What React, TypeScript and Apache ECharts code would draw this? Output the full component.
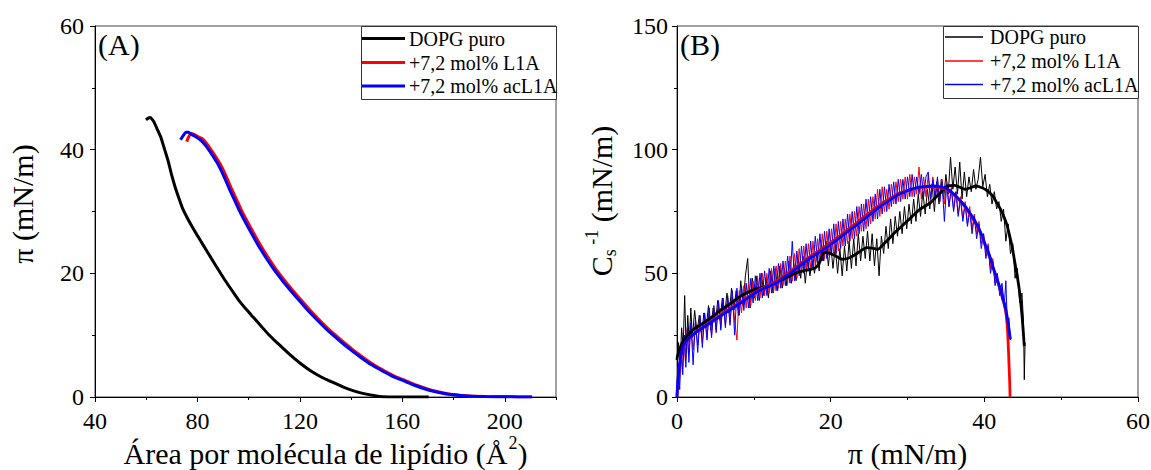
import React, { useEffect, useRef } from 'react';
import * as echarts from 'echarts';

const FONT = "'Liberation Serif', 'Times New Roman', Times, serif";

// Panel A: surface pressure isotherms [area (Å²), π (mN/m)]
const isoDOPG = [
  [59.9, 44.8], [60.8, 45.1], [61.6, 45.2], [62.3, 44.9], [63, 44.5], [64.3, 43.3], [65.8, 41.9], [67.2, 40],
  [68.6, 38.1], [70, 35.8], [71.4, 33.8], [72.8, 32.1], [74.1, 30.6], [76, 29], [78, 27.5], [79.7, 26.3],
  [82.5, 24.4], [85.3, 22.5], [88, 20.7], [90.9, 18.8], [93.7, 17.1], [96.4, 15.5], [99.2, 14.1], [102, 12.8],
  [104.8, 11.5], [107.6, 10.2], [111.8, 8.5], [116, 6.9], [120, 5.5], [124.3, 4.2], [128.5, 3.2], [132.7, 2.4],
  [137, 1.6], [141, 1.0], [145, 0.55], [149.4, 0.2], [152.2, 0.05], [160, 0.01], [170.3, 0]
];
const isoL1A = [
  [75.8, 41.3], [76.6, 42.1], [77.5, 42.6], [78.5, 42.5], [80.2, 42.1], [81.8, 41.8], [83.2, 41.2], [84.8, 40.3],
  [86.9, 39], [89, 37.6], [91.1, 35.8], [93.2, 33.8], [95.2, 32], [97.3, 30.1], [100.1, 27.9], [102.9, 25.8],
  [105.7, 23.8], [108.5, 22], [111.3, 20.3], [114.1, 18.8], [116.9, 17.4], [119.6, 16.1], [123.8, 14.1], [128, 12.3],
  [132.2, 10.6], [136.4, 9.1], [140.5, 7.7], [144.7, 6.4], [148.9, 5.2], [153.1, 4.2], [157.3, 3.3], [161.5, 2.6],
  [165.6, 1.9], [169.8, 1.3], [173.9, 0.85], [178.1, 0.5], [182.3, 0.3], [186.4, 0.16], [192.8, 0.08], [200.3, 0.04],
  [205.5, 0.02], [210.5, 0]
];
const isoAcL1A = [
  [73.4, 41.6], [74.5, 42.3], [75.5, 42.8], [76.5, 42.8], [77.6, 42.5], [79.3, 42.1], [81.1, 41.6], [82.5, 41],
  [83.9, 40.3], [86, 39], [88.1, 37.6], [90.2, 35.8], [92.3, 33.8], [94.3, 32], [96.4, 30.1], [99.2, 27.9],
  [102, 25.8], [104.8, 23.8], [107.6, 22.0], [110.4, 20.3], [113.2, 18.8], [116, 17.4], [118.7, 16.1], [122.9, 14.1],
  [127.1, 12.3], [131.3, 10.6], [135.5, 9.1], [139.6, 7.7], [143.8, 6.4], [148, 5.2], [152.2, 4.2], [156.4, 3.3],
  [160.6, 2.6], [164.7, 1.9], [168.9, 1.3], [173, 0.85], [177.3, 0.5], [181.5, 0.3], [185.6, 0.16], [192, 0.08],
  [199.6, 0.04], [205, 0.02], [210.7, 0]
];

// Panel B: compressibility modulus [π (mN/m), Cs^-1 (mN/m)] – raw (noisy) traces
const csDOPGraw = [
  [0.0, 15], [0.2, 22], [0.4, 12], [0.6, 28], [0.8, 20], [1.0, 41], [1.2, 18], [1.4, 33], [1.6, 22], [1.8, 36],
  [2.0, 24], [2.3, 35], [2.6, 26], [2.9, 33], [3.2, 25], [3.5, 34], [3.8, 28], [4.1, 37], [4.4, 27], [4.7, 36],
  [5.0, 30], [5.3, 39], [5.6, 31], [5.9, 40], [6.2, 33], [6.5, 42], [6.8, 34], [7.1, 44], [7.4, 35], [7.7, 43],
  [8.0, 33], [8.3, 47], [8.6, 37], [8.9, 49], [9.2, 56], [9.5, 36], [9.8, 48], [10.1, 40], [10.4, 49], [10.7, 39],
  [11.0, 50], [11.3, 41], [11.6, 48], [11.9, 40], [12.2, 51], [12.5, 42], [12.8, 52], [13.1, 43], [13.4, 53], [13.7, 44],
  [14.0, 52], [14.3, 45], [14.6, 55], [14.9, 46], [15.2, 54], [15.5, 47], [15.8, 56], [16.1, 48], [16.4, 57], [16.7, 46],
  [17.0, 56], [17.3, 49], [17.6, 55], [17.9, 50], [18.2, 58], [18.5, 51], [18.8, 62], [19.1, 55], [19.4, 63], [19.7, 53],
  [20.0, 62], [20.3, 52], [20.6, 61], [20.9, 50], [21.2, 60], [21.5, 49], [21.8, 61], [22.1, 51], [22.4, 63], [22.7, 52],
  [23.0, 64], [23.3, 53], [23.6, 66], [23.9, 55], [24.2, 65], [24.5, 56], [24.8, 67], [25.1, 55], [25.4, 66], [25.7, 53],
  [26.0, 64], [26.3, 49], [26.6, 65], [26.9, 58], [27.2, 69], [27.5, 60], [27.8, 72], [28.1, 62], [28.4, 73], [28.7, 65],
  [29.0, 75], [29.3, 66], [29.6, 77], [29.9, 68], [30.2, 78], [30.5, 70], [30.8, 80], [31.1, 71], [31.4, 82], [31.7, 73],
  [32.0, 83], [32.3, 74], [32.6, 84], [32.9, 76], [33.2, 86], [33.5, 75], [33.8, 87], [34.1, 78], [34.4, 88], [34.7, 80],
  [35.0, 90], [35.3, 82], [35.6, 97], [35.9, 84], [36.2, 93], [36.5, 82], [36.8, 95], [37.1, 80], [37.4, 91], [37.7, 81],
  [38.0, 89], [38.3, 83], [38.6, 92], [38.9, 84], [39.2, 88], [39.5, 97], [39.8, 85], [40.1, 90], [40.4, 81], [40.7, 86],
  [41.0, 78], [41.3, 83], [41.6, 76], [41.9, 79], [42.2, 71], [42.5, 76], [42.8, 63], [43.1, 70], [43.4, 58], [43.7, 62],
  [44.0, 48], [44.3, 52], [44.6, 38], [44.9, 42], [45.1, 30], [45.2, 7], [45.3, 22]
];
const csL1Araw = [
  [0.0, 0], [0.1, 8], [0.3, 5], [0.5, 18], [0.7, 10], [0.9, 24], [1.1, 14], [1.3, 27], [1.5, 17], [1.8, 29],
  [2.1, 19], [2.4, 30], [2.7, 21], [3.0, 32], [3.3, 22], [3.6, 33], [3.9, 24], [4.2, 34], [4.5, 25], [4.8, 36],
  [5.1, 27], [5.4, 38], [5.7, 28], [6.0, 39], [6.3, 29], [6.6, 40], [6.9, 30], [7.2, 42], [7.5, 31], [7.8, 23],
  [8.1, 43], [8.4, 34], [8.7, 45], [9.0, 36], [9.3, 46], [9.6, 37], [9.9, 47], [10.2, 39], [10.5, 48], [10.8, 40],
  [11.1, 50], [11.4, 41], [11.7, 50], [12.0, 42], [12.3, 52], [12.6, 43], [12.9, 53], [13.2, 44], [13.5, 54], [13.8, 45],
  [14.1, 55], [14.4, 46], [14.7, 57], [15.0, 47], [15.3, 58], [15.6, 48], [15.9, 60], [16.2, 50], [16.5, 61], [16.8, 51],
  [17.1, 62], [17.4, 52], [17.7, 63], [18.0, 53], [18.3, 64], [18.6, 55], [18.9, 66], [19.2, 56], [19.5, 67], [19.8, 57],
  [20.1, 68], [20.4, 58], [20.7, 70], [21.0, 59], [21.3, 71], [21.6, 61], [21.9, 72], [22.2, 62], [22.5, 74], [22.8, 64],
  [23.1, 75], [23.4, 65], [23.7, 77], [24.0, 67], [24.3, 78], [24.6, 68], [24.9, 80], [25.2, 70], [25.5, 81], [25.8, 72],
  [26.1, 84], [26.4, 73], [26.7, 85], [27.0, 75], [27.3, 84], [27.6, 76], [27.9, 86], [28.2, 78], [28.5, 87], [28.8, 79],
  [29.1, 88], [29.4, 80], [29.7, 89], [30.0, 80], [30.3, 90], [30.6, 81], [30.9, 89], [31.2, 82], [31.5, 93], [31.8, 80],
  [32.1, 89], [32.4, 81], [32.7, 90], [33.0, 79], [33.3, 89], [33.6, 80], [33.9, 88], [34.2, 79], [34.5, 88], [34.8, 78],
  [35.1, 87], [35.4, 77], [35.7, 85], [36.0, 76], [36.3, 83], [36.6, 74], [36.9, 81], [37.2, 72], [37.5, 79], [37.8, 70],
  [38.1, 77], [38.4, 68], [38.7, 74], [39.0, 66], [39.3, 71], [39.6, 62], [39.9, 66], [40.2, 58], [40.5, 62], [40.8, 52],
  [41.1, 56], [41.4, 46], [41.7, 49], [42.0, 42], [42.3, 44], [42.6, 36], [42.9, 34], [43.1, 26]
];
const csAcL1Araw = [
  [0.0, 0], [0.15, 12], [0.35, 3], [0.55, 20], [0.75, 9], [0.95, 25], [1.15, 12], [1.35, 28], [1.55, 14], [1.8, 30],
  [2.1, 13], [2.4, 31], [2.7, 18], [3.0, 33], [3.3, 20], [3.6, 34], [3.9, 23], [4.2, 36], [4.5, 24], [4.8, 37],
  [5.1, 26], [5.4, 39], [5.7, 27], [6.0, 40], [6.3, 28], [6.6, 41], [6.9, 29], [7.2, 43], [7.5, 25], [7.8, 44],
  [8.1, 33], [8.4, 45], [8.7, 35], [9.0, 46], [9.3, 36], [9.6, 48], [9.9, 38], [10.2, 49], [10.5, 39], [10.8, 50],
  [11.1, 40], [11.4, 51], [11.7, 41], [12.0, 52], [12.3, 42], [12.6, 53], [12.9, 43], [13.2, 54], [13.5, 44], [13.8, 55],
  [14.1, 45], [14.4, 57], [14.7, 46], [15.0, 63], [15.3, 47], [15.6, 59], [15.9, 49], [16.2, 61], [16.5, 50], [16.8, 62],
  [17.1, 51], [17.4, 63], [17.7, 52], [18.0, 65], [18.3, 54], [18.6, 66], [18.9, 55], [19.2, 67], [19.5, 56], [19.8, 68],
  [20.1, 57], [20.4, 70], [20.7, 58], [21.0, 71], [21.3, 60], [21.6, 72], [21.9, 61], [22.2, 74], [22.5, 63], [22.8, 75],
  [23.1, 64], [23.4, 77], [23.7, 66], [24.0, 78], [24.3, 67], [24.6, 80], [24.9, 69], [25.2, 81], [25.5, 71], [25.8, 82],
  [26.1, 72], [26.4, 84], [26.7, 74], [27.0, 85], [27.3, 75], [27.6, 86], [27.9, 77], [28.2, 87], [28.5, 78], [28.8, 88],
  [29.1, 79], [29.4, 88], [29.7, 80], [30.0, 89], [30.3, 81], [30.6, 90], [30.9, 81], [31.2, 89], [31.5, 82], [31.8, 90],
  [32.1, 81], [32.4, 89], [32.7, 91], [33.0, 80], [33.3, 88], [33.6, 80], [33.9, 89], [34.2, 79], [34.5, 87], [34.8, 71],
  [35.1, 86], [35.4, 77], [35.7, 84], [36.0, 75], [36.3, 83], [36.6, 73], [36.9, 80], [37.2, 71], [37.5, 78], [37.8, 69],
  [38.1, 75], [38.4, 66], [38.7, 73], [39.0, 64], [39.3, 70], [39.6, 60], [39.9, 66], [40.2, 56], [40.5, 61], [40.8, 50],
  [41.1, 55], [41.4, 45], [41.7, 50], [42.0, 41], [42.3, 46], [42.6, 37], [42.8, 47], [43.0, 29], [43.2, 32], [43.4, 23]
];

// Panel B: smoothed traces
const csDOPGsmooth = [
  [0, 15], [0.1, 17], [0.5, 20.6], [1, 23.5], [1.5, 25.3], [2.2, 27.5], [2.8, 28.7], [3.7, 30.5], [4.7, 32.7],
  [5.6, 35], [6.5, 36.8], [7.4, 38.8], [8.3, 40.8], [9.2, 42.3], [10.1, 43.5], [11, 44.2], [11.9, 44.9], [12.9, 46.2],
  [13.8, 47.6], [14.7, 49], [15.6, 50.3], [16.5, 51], [17.4, 51.6], [18, 52.2], [18.5, 54], [19.2, 58.4], [19.7, 58.3],
  [20.2, 57.7], [20.8, 56.8], [21.5, 55.7], [22.2, 56], [22.9, 57], [23.8, 58.8], [24.7, 60.4], [25.4, 60.2], [26.1, 59.7],
  [26.8, 61.5], [27.5, 63.7], [28.1, 65.7], [28.8, 67.8], [29.5, 69.8], [30.2, 71.8], [30.9, 73.9], [31.6, 75.9],
  [32.3, 77.2], [33, 78.6], [33.6, 80.5], [34.3, 82.6], [35.2, 85.3], [36.1, 85.6], [36.8, 84.8], [37.5, 84],
  [38.2, 84.6], [38.9, 85.3], [39.7, 84.6], [40.2, 83.8], [40.7, 82.6], [41.2, 80.8], [41.6, 78.6], [42.1, 76],
  [42.5, 73.2], [42.9, 70], [43.2, 66.4], [43.6, 61], [43.9, 55.7], [44.3, 48.5], [44.6, 42.2], [44.9, 33], [45.2, 20.6]
];
const csL1Asmooth = [
  [0, 0], [0.1, 5], [0.3, 12], [0.5, 16], [0.8, 20], [1.3, 22.8], [1.9, 24.6], [2.8, 26.9], [3.7, 28.9], [4.8, 31.3],
  [6, 33.8], [7.2, 36.2], [8.3, 38.5], [9.5, 41], [10.6, 43.2], [11.8, 45], [12.9, 46.8], [14, 49.2], [15.1, 51.6],
  [16.2, 54.3], [17.4, 57], [18.6, 59.5], [19.7, 61.8], [20.9, 64.5], [22, 67.2], [23.2, 70], [24.3, 72.8], [25.4, 75.4],
  [26.5, 78], [27.7, 80.3], [28.8, 82.3], [30, 83.6], [31.1, 84.4], [32.2, 84.9], [33.4, 85], [34.1, 84.8], [34.8, 84.2],
  [35.5, 83], [36.1, 81.5], [36.8, 79.3], [37.5, 76.8], [38.2, 73.6], [38.9, 70], [39.6, 65.5], [40.2, 60.5],
  [40.7, 56.5], [41.1, 52.5], [41.6, 47.8], [42.1, 43], [42.4, 39.5], [42.7, 36], [42.95, 30], [43.1, 22],
  [43.2, 14], [43.3, 6], [43.35, 0]
];
const csAcL1Asmooth = [
  [0, 0], [0.1, 6], [0.3, 12.5], [0.5, 16.5], [0.8, 20.6], [1.3, 23], [1.9, 24.7], [2.8, 26.8], [3.7, 28.7], [4.8, 31],
  [6, 33.4], [7.2, 35.8], [8.3, 38.1], [9.5, 40.6], [10.6, 42.9], [11.8, 44.6], [12.9, 46.2], [14, 48.5], [15.1, 50.9],
  [16.2, 53.6], [17.4, 56.3], [18.6, 58.7], [19.7, 61], [20.9, 63.7], [22, 66.4], [23.2, 69.1], [24.3, 71.8], [25.4, 74.5],
  [26.5, 77.2], [27.7, 79.6], [28.8, 81.9], [30, 83.4], [31.1, 84.6], [32.2, 85.1], [33.4, 85.3], [34.1, 85.1],
  [34.8, 84.6], [35.5, 83.4], [36.1, 81.9], [36.8, 79.7], [37.5, 77.2], [38.2, 74], [38.9, 70.5], [39.6, 66],
  [40.2, 61], [40.7, 57], [41.1, 52.9], [41.6, 48.2], [42.1, 43.5], [42.4, 40], [42.7, 36.8], [43, 32], [43.2, 27.4],
  [43.4, 23.3]
];

const seriesNames = ['DOPG puro', '+7,2 mol% L1A', '+7,2 mol% acL1A'];
const seriesColors = ['#000000', '#ff0000', '#0000ff'];
const xTitleA = ['Área por molécula de lipídio (Å', '2', ')'];

const axisLineStyle = { color: '#000', width: 1 };
const tickLabel = (margin: number) => ({ fontFamily: FONT, fontSize: 24, color: '#000', margin });

function legendBox(x0: number, x1: number, lineX0: number, lineX1: number, textX: number, ys: number[], lw: number, bottom: number) {
  const els: any[] = [
    { type: 'rect', shape: { x: x0 + 0.5, y: 26.5, width: x1 - x0, height: bottom - 26 }, style: { fill: '#fff', stroke: '#333', lineWidth: 1 }, z: 10 }
  ];
  seriesNames.forEach((n, i) => {
    els.push({ type: 'line', shape: { x1: lineX0, y1: ys[i], x2: lineX1, y2: ys[i] }, style: { stroke: seriesColors[i], lineWidth: lw }, z: 11 });
    els.push({ type: 'text', x: textX, y: ys[i], style: { text: n, fontFamily: FONT, fontSize: 20, fill: '#000', align: 'left', verticalAlign: 'middle' }, z: 11 });
  });
  return els;
}

function measure(text: string, size: number): number {
  const c = document.createElement('canvas').getContext('2d');
  if (!c) return text.length * size * 0.45;
  c.font = `${size}px ${FONT}`;
  return c.measureText(text).width;
}

export default function App() {
  const ref = useRef<HTMLDivElement>(null);
  useEffect(() => {
    if (!ref.current) return;
    const chart = echarts.init(ref.current, undefined, { renderer: 'svg' });
    const thin = (name: string, color: string, data: number[][]) => ({
      type: 'line', name, data, xAxisIndex: 2, yAxisIndex: 1, showSymbol: false, symbol: 'none',
      lineStyle: { color, width: 1 }, itemStyle: { color }, z: 2
    });
    const thick = (name: string, color: string, data: number[][]) => ({
      type: 'line', name, data, xAxisIndex: 2, yAxisIndex: 1, showSymbol: false, symbol: 'none', smooth: 0.3,
      lineStyle: { color, width: 2.8 }, itemStyle: { color }, z: 3
    });
    const iso = (name: string, color: string, data: number[][]) => ({
      type: 'line', name, data, xAxisIndex: 0, yAxisIndex: 0, showSymbol: false, symbol: 'none', smooth: 0.2,
      lineStyle: { color, width: 3 }, itemStyle: { color }, z: 3
    });

    // left x-axis title with a superscript, laid out from measured widths
    const w1 = measure(xTitleA[0], 30);
    const w2 = measure(xTitleA[1], 18);
    const w3 = measure(xTitleA[2], 30);
    const total = w1 + 1 + w2 + w3;
    const tx0 = 95 + 461 / 2 - total / 2;

    const option: any = {
      animation: false,
      backgroundColor: '#fff',
      textStyle: { fontFamily: FONT },
      grid: [
        { left: 95, top: 26, width: 461, height: 371, show: true, borderColor: '#444', borderWidth: 1, outerBoundsMode: 'none', containLabel: false },
        { left: 677, top: 26, width: 461, height: 371, show: true, borderColor: '#444', borderWidth: 1, outerBoundsMode: 'none', containLabel: false }
      ],
      xAxis: [
        {
          type: 'value', gridIndex: 0, min: 40, max: 220, interval: 40, position: 'bottom',
          axisLine: { show: true, onZero: false, lineStyle: axisLineStyle },
          axisTick: { show: true, length: 5, lineStyle: { color: '#000' } },
          axisLabel: { ...tickLabel(12), showMaxLabel: false },
          splitLine: { show: false }
        },
        {
          type: 'value', gridIndex: 0, min: 40, max: 220, interval: 20, position: 'bottom', offset: 0,
          axisLine: { show: false, onZero: false },
          axisTick: { show: true, length: 3, lineStyle: { color: '#000' } },
          axisLabel: { show: false }, splitLine: { show: false }
        },
        {
          type: 'value', gridIndex: 1, min: 0, max: 60, interval: 20, position: 'bottom',
          axisLine: { show: true, onZero: false, lineStyle: axisLineStyle },
          axisTick: { show: true, length: 5, lineStyle: { color: '#000' } },
          minorTick: { show: true, splitNumber: 2, length: 3, lineStyle: { color: '#000' } },
          axisLabel: tickLabel(12), splitLine: { show: false },
          name: 'π (mN/m)', nameLocation: 'middle', nameGap: 41,
          nameTextStyle: { fontFamily: FONT, fontSize: 30, color: '#000', lineHeight: 30 }
        }
      ],
      yAxis: [
        {
          type: 'value', gridIndex: 0, min: 0, max: 60, interval: 20,
          axisLine: { show: true, onZero: false, lineStyle: axisLineStyle },
          axisTick: { show: true, length: 5, lineStyle: { color: '#000' } },
          minorTick: { show: true, splitNumber: 2, length: 3, lineStyle: { color: '#000' } },
          axisLabel: tickLabel(11), splitLine: { show: false }
        },
        {
          type: 'value', gridIndex: 1, min: 0, max: 150, interval: 50,
          axisLine: { show: true, onZero: false, lineStyle: axisLineStyle },
          axisTick: { show: true, length: 5, lineStyle: { color: '#000' } },
          minorTick: { show: true, splitNumber: 2, length: 3, lineStyle: { color: '#000' } },
          axisLabel: tickLabel(9), splitLine: { show: false }
        }
      ],
      series: [
        iso(seriesNames[0], seriesColors[0], isoDOPG),
        iso(seriesNames[1], seriesColors[1], isoL1A),
        iso(seriesNames[2], seriesColors[2], isoAcL1A),
        thin(seriesNames[0], seriesColors[0], csDOPGraw),
        thin(seriesNames[1], seriesColors[1], csL1Araw),
        thin(seriesNames[2], seriesColors[2], csAcL1Araw),
        thick(seriesNames[0], seriesColors[0], csDOPGsmooth),
        thick(seriesNames[1], seriesColors[1], csL1Asmooth),
        thick(seriesNames[2], seriesColors[2], csAcL1Asmooth)
      ],
      graphic: [
        { type: 'text', x: 98, y: 44, style: { text: '(A)', fontFamily: FONT, fontSize: 30, fill: '#000', align: 'left', verticalAlign: 'middle' } },
        { type: 'text', x: 680, y: 44, style: { text: '(B)', fontFamily: FONT, fontSize: 30, fill: '#000', align: 'left', verticalAlign: 'middle' } },
        { type: 'text', x: tx0, y: 453, style: { text: xTitleA[0], fontFamily: FONT, fontSize: 30, fill: '#000', align: 'left', verticalAlign: 'middle' } },
        { type: 'text', x: tx0 + w1 + 1, y: 443, style: { text: xTitleA[1], fontFamily: FONT, fontSize: 18, fill: '#000', align: 'left', verticalAlign: 'middle' } },
        { type: 'text', x: tx0 + w1 + 1 + w2, y: 453, style: { text: xTitleA[2], fontFamily: FONT, fontSize: 30, fill: '#000', align: 'left', verticalAlign: 'middle' } },
        {
          type: 'text', x: 22, y: 204, rotation: Math.PI / 2,
          style: { text: 'π (mN/m)', fontFamily: FONT, fontSize: 30, fill: '#000', align: 'center', verticalAlign: 'middle' }
        },
        {
          type: 'text', x: 601, y: 201, rotation: Math.PI / 2,
          style: {
            text: '{c|C}{sub|s}{sup| -1}{c| (mN/m)}', align: 'center', verticalAlign: 'middle',
            rich: {
              c: { fontFamily: FONT, fontSize: 30, fill: '#000', lineHeight: 36, verticalAlign: 'middle' },
              sub: { fontFamily: FONT, fontSize: 18, fill: '#000', lineHeight: 18, verticalAlign: 'bottom' },
              sup: { fontFamily: FONT, fontSize: 18, fill: '#000', lineHeight: 22, verticalAlign: 'top' }
            }
          }
        },
        ...legendBox(361, 556, 362, 405, 409, [38.5, 62.5, 86], 3, 99),
        ...legendBox(943, 1138, 945, 983, 990, [37, 61, 84.5], 1.5, 98)
      ]
    };
    chart.setOption(option);
    return () => chart.dispose();
  }, []);
  return <div ref={ref} style={{ position: 'fixed', left: 0, top: 0, width: 1151, height: 470, background: '#fff' }} />;
}
